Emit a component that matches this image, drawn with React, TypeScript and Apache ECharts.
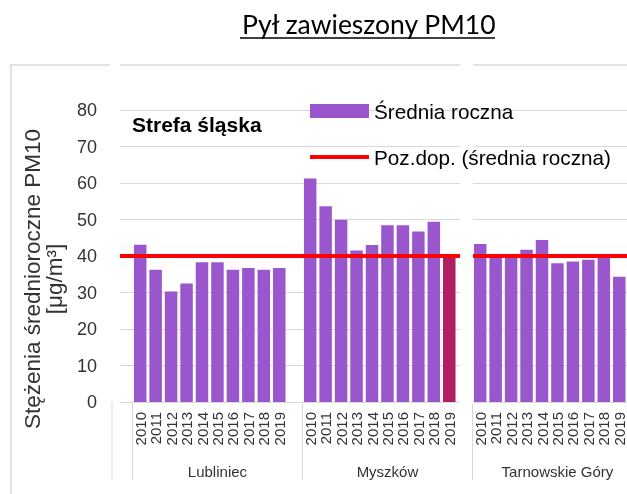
import React, { useEffect, useRef } from 'react';
import * as echarts from 'echarts';

const TITLE = 'Pył zawieszony PM10';
const ZONE = 'Strefa śląska';
const Y_NAME = 'Stężenia średnioroczne PM10\n[μg/m³]';
const YEARS = ['2010', '2011', '2012', '2013', '2014', '2015', '2016', '2017', '2018', '2019'];
const STATIONS = ['Lubliniec', 'Myszków', 'Tarnowskie Góry'];
const LUBLINIEC = [43.1, 36.2, 30.3, 32.5, 38.3, 38.3, 36.2, 36.7, 36.2, 36.7];
const MYSZKOW = [61.2, 53.6, 49.9, 41.5, 43.0, 48.4, 48.4, 46.7, 49.4, 39.6];
const TARNOWSKIE_GORY = [43.3, 40.3, 40.1, 41.7, 44.4, 38.0, 38.5, 39.0, 39.5, 34.3];
const LIMIT = 40;
const Y_MIN = 0;
const Y_MAX = 80;
const Y_STEP = 10;
const SERIES_NAMES = ['Średnia roczna', 'Poz.dop. (średnia roczna)'];
const HIGHLIGHT_STATION = 'Myszków';
const HIGHLIGHT_YEAR = '2019';

const BAR = '#9a57cd';
const BAR_DARK = '#b01e63';
const RED = '#ff0000';
const GRID_GREY = '#d9d9d9';
const FONT = '"Liberation Sans", Arial, sans-serif';

export default function App() {
  const ref = useRef<HTMLDivElement>(null);

  useEffect(() => {
    if (!ref.current) return;
    const chart = echarts.init(ref.current, null, { renderer: 'svg' });

    const groups = [LUBLINIEC, MYSZKOW, TARNOWSKIE_GORY];
    const cats: string[] = [];
    const vals: any[] = [];
    const groupLabels: string[] = [];
    const groupStarts: number[] = [];
    STATIONS.forEach((st, gi) => {
      cats.push(' ' + gi);
      vals.push(null);
      groupLabels.push('');
      groupStarts.push(cats.length);
      YEARS.forEach((y, yi) => {
        cats.push(y + '_' + gi);
        const v = groups[gi][yi];
        const hl = st === HIGHLIGHT_STATION && y === HIGHLIGHT_YEAR;
        vals.push(hl ? { value: v, itemStyle: { color: BAR_DARK } } : v);
        groupLabels.push(yi === 5 ? st : '');
      });
    });

    chart.setOption({
      animation: false,
      title: {
        text: TITLE,
        left: 237,
        top: 5,
        textStyle: { fontFamily: 'Lato, "Open Sans", sans-serif', fontSize: 26.5, fontWeight: 'normal', color: '#000' },
      },
      legend: {
        orient: 'vertical',
        left: 305,
        top: 95,
        z: 200,
        itemWidth: 59,
        itemHeight: 14,
        itemGap: 24,
        itemTextGap: 7,
        symbolKeepAspect: true,
        textStyle: { fontFamily: FONT, fontSize: 20.7, color: '#000', lineHeight: 22 },
        data: [
          { name: SERIES_NAMES[0], icon: 'rect', itemStyle: { color: BAR } },
          { name: SERIES_NAMES[1], icon: 'path://M0,0L59,0L59,4L0,4Z', itemStyle: { color: RED } },
        ],
      },
      grid: { left: 117, right: 0, top: 110, bottom: 92 },
      xAxis: [
        {
          type: 'category',
          position: 'bottom',
          data: cats,
          axisLine: { show: true, lineStyle: { color: GRID_GREY, width: 1 } },
          axisTick: {
            show: true,
            length: 78,
            lineStyle: { color: GRID_GREY, width: 1 },
            interval: (i: number) => groupStarts.indexOf(i) >= 0,
          },
          axisLabel: {
            interval: 0,
            rotate: 90,
            margin: 10,
            fontFamily: FONT,
            fontSize: 15,
            color: '#333',
            formatter: (v: string) => (v.indexOf('_') > 0 ? v.split('_')[0] : ''),
          },
        },
        {
          type: 'category',
          position: 'bottom',
          data: groupLabels.map((g, i) => ({ value: g || ' ' + i })),
          axisLine: { show: false },
          axisTick: { show: false },
          axisLabel: {
            interval: 0,
            margin: 62,
            fontFamily: FONT,
            fontSize: 15,
            color: '#333',
            formatter: (v: string) => (v.trim() && isNaN(Number(v.trim())) ? v : ''),
          },
        },
      ],
      yAxis: {
        type: 'value',
        min: Y_MIN,
        max: Y_MAX,
        interval: Y_STEP,
        name: Y_NAME,
        nameLocation: 'middle',
        nameRotate: 90,
        nameGap: 48,
        nameTextStyle: { fontFamily: FONT, fontSize: 22.5, color: '#333', lineHeight: 22, padding: [0, 46, 0, 0] },
        axisLine: { show: false },
        axisTick: { show: false },
        axisLabel: { margin: 20, fontFamily: FONT, fontSize: 18, color: '#333' },
        splitLine: { lineStyle: { color: GRID_GREY, width: 1 } },
      },
      series: [
        {
          name: SERIES_NAMES[0],
          type: 'bar',
          data: vals,
          barWidth: 12.5,
          itemStyle: { color: BAR },
          z: 2,
        },
        {
          name: SERIES_NAMES[1],
          type: 'line',
          data: cats.map(() => null),
          symbol: 'none',
          z: 2,
          lineStyle: { color: RED, width: 4 },
          itemStyle: { color: RED },
          markLine: {
            silent: true,
            symbol: ['none', 'none'],
            label: { show: false },
            lineStyle: { color: RED, width: 4, type: 'solid' },
            data: [{ yAxis: LIMIT }],
          },
        },
      ],
      graphic: [
        { type: 'rect', z: 100, shape: { x: 110, y: 60, width: 10, height: 344 }, style: { fill: '#fff' } },
        { type: 'rect', z: 100, shape: { x: 460, y: 60, width: 13, height: 344 }, style: { fill: '#fff' } },
        { type: 'line', z: 110, shape: { x1: 11, y1: 65, x2: 11, y2: 494 }, style: { stroke: GRID_GREY, lineWidth: 1.5 } },
        { type: 'line', z: 110, shape: { x1: 10, y1: 65, x2: 110, y2: 65 }, style: { stroke: GRID_GREY, lineWidth: 1.5 } },
        { type: 'line', z: 110, shape: { x1: 120, y1: 65, x2: 460, y2: 65 }, style: { stroke: GRID_GREY, lineWidth: 1.5 } },
        { type: 'line', z: 110, shape: { x1: 473, y1: 65, x2: 627, y2: 65 }, style: { stroke: GRID_GREY, lineWidth: 1.5 } },
        { type: 'line', z: 110, shape: { x1: 112, y1: 402, x2: 112, y2: 480 }, style: { stroke: GRID_GREY, lineWidth: 1 } },
        { type: 'line', z: 110, shape: { x1: 240, y1: 38, x2: 495, y2: 38 }, style: { stroke: '#000', lineWidth: 1.6 } },
        {
          type: 'text',
          z: 110,
          left: 132,
          top: 114,
          style: { text: ZONE, fontFamily: FONT, fontSize: 21, fontWeight: 'bold', fill: '#000' },
        },
      ],
    });

    return () => chart.dispose();
  }, []);

  return <div ref={ref} style={{ position: 'fixed', left: 0, top: 0, width: 627, height: 494 }} />;
}
